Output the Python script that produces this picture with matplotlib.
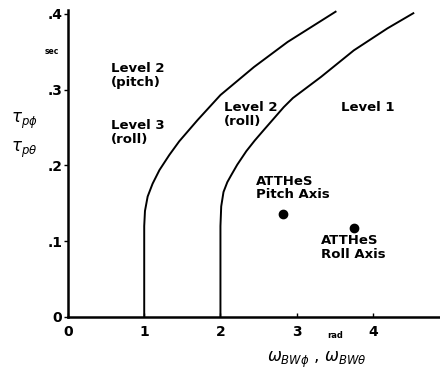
import matplotlib
matplotlib.use('Agg')
import matplotlib.pyplot as plt

# Boundary curves (omega_BW [rad/s], tau_p [s])
level32_x = [1.00, 1.00, 1.01, 1.045, 1.11, 1.20, 1.33, 1.46, 1.70, 2.00, 2.44, 2.88, 3.51]
level32_y = [0.000, 0.120, 0.140, 0.159, 0.176, 0.194, 0.214, 0.232, 0.260, 0.293, 0.330, 0.363, 0.403]

level21_x = [2.00, 2.00, 2.01, 2.04, 2.09, 2.14, 2.22, 2.34, 2.45, 2.57, 2.83, 2.95, 3.32, 3.75, 4.19, 4.53]
level21_y = [0.000, 0.120, 0.146, 0.165, 0.178, 0.187, 0.201, 0.219, 0.233, 0.247, 0.277, 0.289, 0.317, 0.352, 0.381, 0.401]

# ATTHeS points
pt_names = ['ATTHeS\nPitch Axis', 'ATTHeS\nRoll Axis']
pt_x = [2.82, 3.75]
pt_y = [0.136, 0.117]

xticks = [0, 1, 2, 3, 4]
xtick_labels = ['0', '1', '2', '3', '4']
yticks = [0, 0.1, 0.2, 0.3, 0.4]
ytick_labels = ['0', '.1', '.2', '.3', '.4']

fig = plt.figure(figsize=(4.4, 3.79), dpi=100)
ax = fig.add_axes([0.1545, 0.1636, 0.8455, 0.8095])
ax.set_xlim(0, 4.88)
ax.set_ylim(0, 0.405)

ax.plot(level32_x, level32_y, color='black', lw=1.4)
ax.plot(level21_x, level21_y, color='black', lw=1.4)
ax.plot(pt_x, pt_y, 'o', color='black', markersize=6)

for s in ['top', 'right']:
    ax.spines[s].set_visible(False)
for s in ['left', 'bottom']:
    ax.spines[s].set_linewidth(1.8)

bold = dict(fontweight='bold', family='DejaVu Sans')
ax.set_xticks(xticks)
ax.set_xticklabels(xtick_labels, fontsize=10, **bold)
ax.set_yticks(yticks)
ax.set_yticklabels(ytick_labels, fontsize=10, **bold)
ax.tick_params(axis='x', direction='in', length=3, width=1, pad=6)
ax.tick_params(axis='y', direction='out', length=3, width=1, pad=1)

# region labels
txt = dict(fontsize=9.5, ha='left', va='top', linespacing=1.05, **bold)
ax.text(0.56, 0.336, 'Level 2\n(pitch)', **txt)
ax.text(0.56, 0.261, 'Level 3\n(roll)', **txt)
ax.text(2.05, 0.285, 'Level 2\n(roll)', **txt)
ax.text(3.58, 0.285, 'Level 1', **txt)
ax.text(2.46, 0.188, pt_names[0], **txt)
ax.text(3.32, 0.109, pt_names[1], **txt)

# units
ax.text(-0.12, 0.35, 'sec', fontsize=5.5, ha='right', va='center', **bold)
ax.text(3.51, -0.024, 'rad', fontsize=6, ha='center', va='center', **bold)

# axis labels
fig.text(0.055, 0.68, r'$\tau_{p\phi}$', fontsize=12, ha='center', va='center')
fig.text(0.055, 0.605, r'$\tau_{p\theta}$', fontsize=12, ha='center', va='center')
fig.text(0.72, 0.05, r'$\omega_{BW\phi}$ , $\omega_{BW\theta}$', fontsize=12,
         ha='center', va='center')

plt.savefig('out.png', dpi=100)
